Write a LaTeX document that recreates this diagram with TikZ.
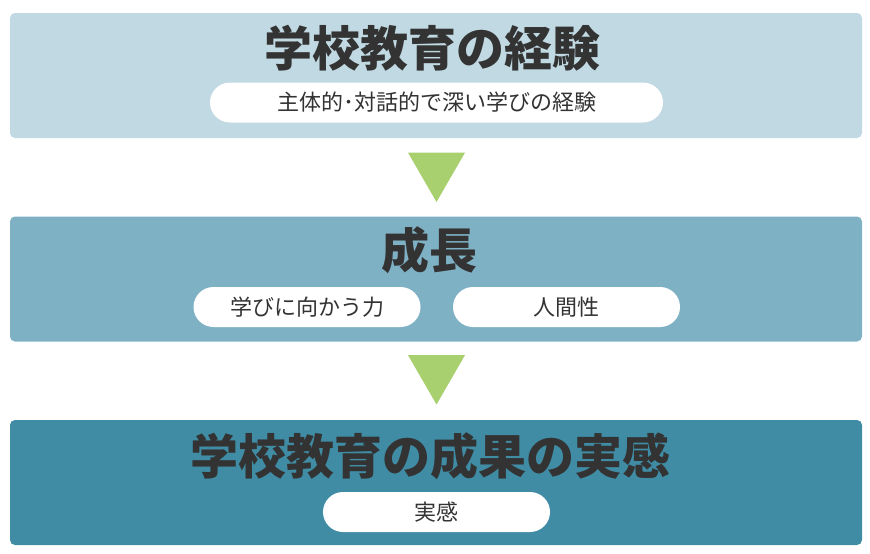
\documentclass[tikz,border=0pt]{standalone}
\usepackage{fontspec}
\setmainfont{Noto Sans CJK JP}
\usetikzlibrary{shapes.geometric}
\definecolor{bandone}{HTML}{C0D9E2}
\definecolor{bandtwo}{HTML}{7FB1C5}
\definecolor{bandthree}{HTML}{3F8CA4}
\definecolor{arrowgreen}{HTML}{A9D06F}
\definecolor{textgray}{HTML}{333333}
\begin{document}
\begin{tikzpicture}[x=1pt,y=-1pt,
	band/.style={rounded corners=5pt,minimum width=852pt,minimum height=125pt,inner sep=0pt},
	heading/.style={text=textgray,inner sep=0pt,font=\fontsize{48}{48}\selectfont\bfseries},
	pill/.style={fill=white,rounded corners=20pt,minimum height=40pt,inner sep=0pt,text=textgray,font=\fontsize{22}{22}\selectfont},
	down/.style={regular polygon,regular polygon sides=3,shape border rotate=180,fill=arrowgreen,minimum size=66pt,inner sep=0pt}]
	\useasboundingbox (0,0) rectangle (870,554);
	
	\node[band,fill=bandone] (band1) at (436,75.5) {};
	\node[band,fill=bandtwo] (band2) at (436,279) {};
	\node[band,fill=bandthree] (band3) at (436,482.5) {};
	
	\node[heading] (head1) at (432,48.5) {学校教育の経験};
	\node[pill,minimum width=453pt] (exp) at (436.5,102.5) {主体的･対話的で深い学びの経験};
	
	\node[down] (tri1) at (436.5,169) {};
	
	\node[heading] (head2) at (429,250.5) {成長};
	\node[pill,minimum width=227pt] (learn) at (307,307) {学びに向かう力};
	\node[pill,minimum width=227pt] (human) at (566.5,307) {人間性};
	
	\node[down] (tri2) at (436.5,371.5) {};
	
	\node[heading] (head3) at (430,456.5) {学校教育の成果の実感};
	\node[pill,minimum width=227pt] (feel) at (436.5,512) {実感};
	
\end{tikzpicture}
\end{document}
